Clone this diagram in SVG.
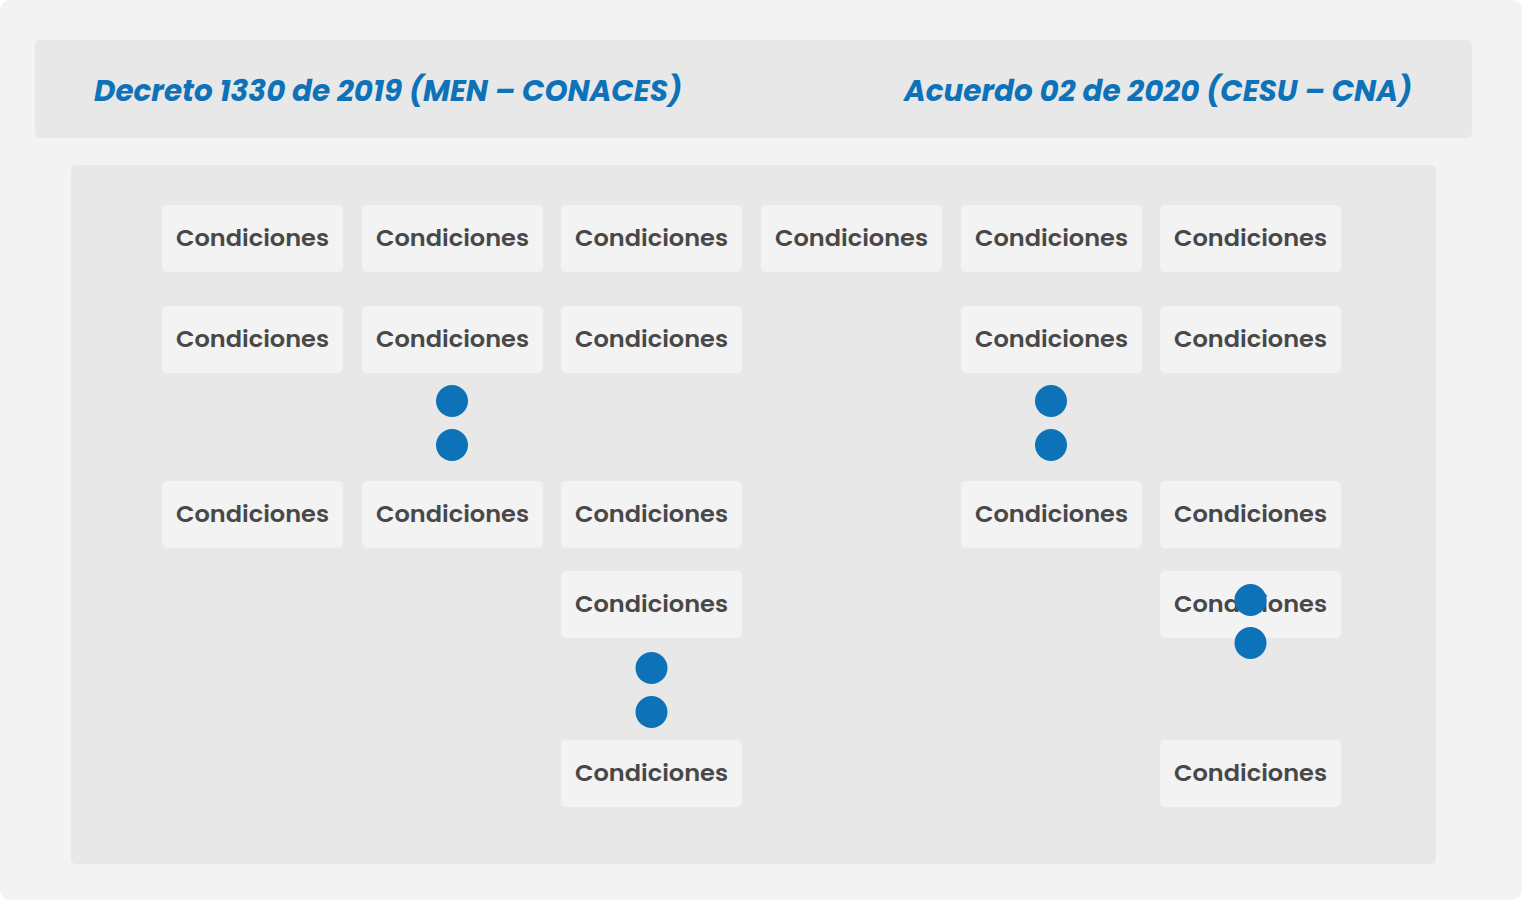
<svg xmlns="http://www.w3.org/2000/svg" width="1522" height="900" viewBox="0 0 1522 900">
<style>
.node rect{fill:#f3f3f3}
.node text{font-family:"Poppins","Open Sans","Noto Sans",sans-serif;font-weight:600;font-size:22px;fill:#484848;text-anchor:middle}
.title{font-family:"Poppins","Open Sans","Noto Sans",sans-serif;font-weight:700;font-style:italic;font-size:29px;fill:#0e72b8}
.dot{fill:#0e72b8}
</style>
<rect x="0" y="0" width="1522" height="900" fill="#ffffff"/>
<rect x="0" y="0" width="1522" height="900" rx="10" fill="#f3f3f3"/>
<g id="header">
<rect x="35" y="40" width="1437" height="98" rx="5" fill="#e8e8e8"/>
<text class="title" x="94" y="101" textLength="588" lengthAdjust="spacingAndGlyphs">Decreto 1330 de 2019 (MEN – CONACES)</text>
<text class="title" x="904" y="101" textLength="508" lengthAdjust="spacingAndGlyphs">Acuerdo 02 de 2020 (CESU – CNA)</text>
</g>
<rect id="panel" x="71" y="165" width="1365" height="699" rx="5" fill="#e8e8e8"/>
<g id="nodes">
<g id="n1-1" class="node"><rect x="162" y="205" width="181" height="67" rx="5"/><text x="252.5" y="246" textLength="153" lengthAdjust="spacingAndGlyphs">Condiciones</text></g>
<g id="n1-2" class="node"><rect x="362" y="205" width="181" height="67" rx="5"/><text x="452.5" y="246" textLength="153" lengthAdjust="spacingAndGlyphs">Condiciones</text></g>
<g id="n1-3" class="node"><rect x="561" y="205" width="181" height="67" rx="5"/><text x="651.5" y="246" textLength="153" lengthAdjust="spacingAndGlyphs">Condiciones</text></g>
<g id="n1-4" class="node"><rect x="761" y="205" width="181" height="67" rx="5"/><text x="851.5" y="246" textLength="153" lengthAdjust="spacingAndGlyphs">Condiciones</text></g>
<g id="n1-5" class="node"><rect x="961" y="205" width="181" height="67" rx="5"/><text x="1051.5" y="246" textLength="153" lengthAdjust="spacingAndGlyphs">Condiciones</text></g>
<g id="n1-6" class="node"><rect x="1160" y="205" width="181" height="67" rx="5"/><text x="1250.5" y="246" textLength="153" lengthAdjust="spacingAndGlyphs">Condiciones</text></g>

<g id="n2-1" class="node"><rect x="162" y="306" width="181" height="67" rx="5"/><text x="252.5" y="347" textLength="153" lengthAdjust="spacingAndGlyphs">Condiciones</text></g>
<g id="n2-2" class="node"><rect x="362" y="306" width="181" height="67" rx="5"/><text x="452.5" y="347" textLength="153" lengthAdjust="spacingAndGlyphs">Condiciones</text></g>
<g id="n2-3" class="node"><rect x="561" y="306" width="181" height="67" rx="5"/><text x="651.5" y="347" textLength="153" lengthAdjust="spacingAndGlyphs">Condiciones</text></g>
<g id="n2-5" class="node"><rect x="961" y="306" width="181" height="67" rx="5"/><text x="1051.5" y="347" textLength="153" lengthAdjust="spacingAndGlyphs">Condiciones</text></g>
<g id="n2-6" class="node"><rect x="1160" y="306" width="181" height="67" rx="5"/><text x="1250.5" y="347" textLength="153" lengthAdjust="spacingAndGlyphs">Condiciones</text></g>

<g id="n3-1" class="node"><rect x="162" y="481" width="181" height="67" rx="5"/><text x="252.5" y="522" textLength="153" lengthAdjust="spacingAndGlyphs">Condiciones</text></g>
<g id="n3-2" class="node"><rect x="362" y="481" width="181" height="67" rx="5"/><text x="452.5" y="522" textLength="153" lengthAdjust="spacingAndGlyphs">Condiciones</text></g>
<g id="n3-3" class="node"><rect x="561" y="481" width="181" height="67" rx="5"/><text x="651.5" y="522" textLength="153" lengthAdjust="spacingAndGlyphs">Condiciones</text></g>
<g id="n3-5" class="node"><rect x="961" y="481" width="181" height="67" rx="5"/><text x="1051.5" y="522" textLength="153" lengthAdjust="spacingAndGlyphs">Condiciones</text></g>
<g id="n3-6" class="node"><rect x="1160" y="481" width="181" height="67" rx="5"/><text x="1250.5" y="522" textLength="153" lengthAdjust="spacingAndGlyphs">Condiciones</text></g>

<g id="n4-3" class="node"><rect x="561" y="571" width="181" height="67" rx="5"/><text x="651.5" y="612" textLength="153" lengthAdjust="spacingAndGlyphs">Condiciones</text></g>
<g id="n4-6" class="node"><rect x="1160" y="571" width="181" height="67" rx="5"/><text x="1250.5" y="612" textLength="153" lengthAdjust="spacingAndGlyphs">Condiciones</text></g>

<g id="n5-3" class="node"><rect x="561" y="740" width="181" height="67" rx="5"/><text x="651.5" y="781" textLength="153" lengthAdjust="spacingAndGlyphs">Condiciones</text></g>
<g id="n5-6" class="node"><rect x="1160" y="740" width="181" height="67" rx="5"/><text x="1250.5" y="781" textLength="153" lengthAdjust="spacingAndGlyphs">Condiciones</text></g>
</g>
<g id="dots">
<circle class="dot" cx="452" cy="401" r="16"/>
<circle class="dot" cx="452" cy="445" r="16"/>
<circle class="dot" cx="1051" cy="401" r="16"/>
<circle class="dot" cx="1051" cy="445" r="16"/>
<circle class="dot" cx="651.5" cy="668" r="16"/>
<circle class="dot" cx="651.5" cy="712" r="16"/>
<circle class="dot" cx="1250.5" cy="600" r="16"/>
<circle class="dot" cx="1250.5" cy="643" r="16"/>
</g>
</svg>
